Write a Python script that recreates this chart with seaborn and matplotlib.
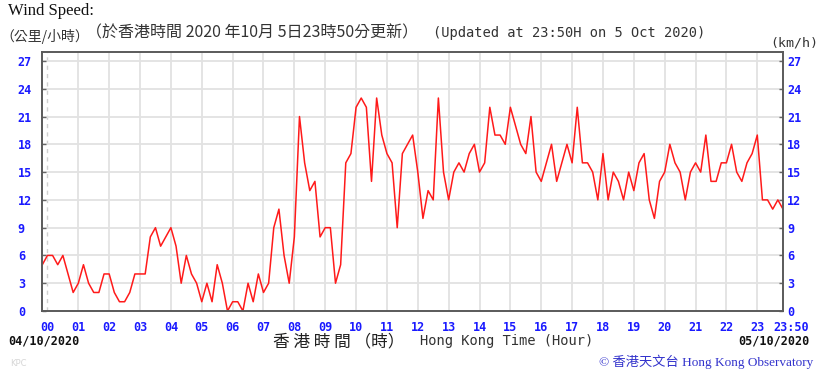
import numpy as np
import pandas as pd
import matplotlib
matplotlib.use("Agg")
import matplotlib.pyplot as plt
import matplotlib.transforms as mtrans
import seaborn as sns

# 10-minute wind speed (km/h), from 23:50 on 04/10/2020 to 23:50 on 05/10/2020
wind_kmh = [5,
    6, 6, 5, 6, 4, 2, 3, 5, 3, 2, 2, 4, 4, 2, 1, 1, 2, 4, 4, 4,
    8, 9, 7, 8, 9, 7, 3, 6, 4, 3, 1, 3, 1, 5, 3, 0, 1, 1, 0, 3,
    1, 4, 2, 3, 9, 11, 6, 3, 8, 21, 16, 13, 14, 8, 9, 9, 3, 5, 16, 17,
    22, 23, 22, 14, 23, 19, 17, 16, 9, 17, 18, 19, 15, 10, 13, 12, 23, 15, 12, 15,
    16, 15, 17, 18, 15, 16, 22, 19, 19, 18, 22, 20, 18, 17, 21, 15, 14, 16, 18, 14,
    16, 18, 16, 22, 16, 16, 15, 12, 17, 12, 15, 14, 12, 15, 13, 16, 17, 12, 10, 14,
    15, 18, 16, 15, 12, 15, 16, 15, 19, 14, 14, 16, 16, 18, 15, 14, 16, 17, 19, 12,
    12, 11, 12, 11]
hour_ticks = list(range(24)) + [23 + 50 / 60]
hour_labels = [f"{h:02d}" for h in range(24)] + ["23:50"]
speed_ticks = list(range(0, 28, 3))

hours = np.arange(len(wind_kmh)) / 6.0 - 1.0 / 6.0
df = pd.DataFrame({"hour": hours, "speed": wind_kmh})

sns.set_style("white")
plt.rcParams["font.family"] = ["DejaVu Sans", "Noto Sans CJK TC"]

W, H = 820, 376
fig = plt.figure(figsize=(W / 100, H / 100), dpi=100)
ax = fig.add_axes([42 / W, 1 - 311 / H, (783 - 42) / W, (311 - 52) / H])

# grid
for h in range(1, 24):
    ax.axvline(h, color="#e2e2e2", lw=1.3, zorder=0)
ax.axvline(0, color="#d0d0d0", lw=1.0, ls=(0, (3, 3)), zorder=0)
for v in speed_ticks[1:]:
    ax.axhline(v, color="#e2e2e2", lw=1.3, zorder=0)

sns.lineplot(data=df, x="hour", y="speed", color="#ff1a1a", linewidth=1.1, ax=ax)

ax.set_xlim(-1.0 / 6.0 - 0.01, 23 + 50 / 60)
ax.set_ylim(0, 27.97)
ax.set_xlabel("")
ax.set_ylabel("")

blue = "#1a1aff"
mono = "DejaVu Sans Mono"
ax.set_xticks(hour_ticks)
ax.set_xticklabels(hour_labels, family=mono, weight="bold", color=blue, fontsize=8.5)
ax.set_yticks(speed_ticks)
ax.set_yticklabels([str(v) for v in speed_ticks], family=mono, weight="bold",
                   color=blue, fontsize=8.5)
ax.tick_params(axis="x", direction="in", length=4, width=1, color="#666666", pad=7)
ax.tick_params(axis="y", direction="in", length=3, width=1, color="#666666",
               left=True, right=True, labelleft=True, labelright=True, pad=3)
# left labels start ~23 px left of the spine (left-aligned as in the original)
offset = mtrans.ScaledTranslation(-(23 - 3) / 100, 0, fig.dpi_scale_trans)
for t in ax.yaxis.get_major_ticks():
    t.label1.set_horizontalalignment("left")
    t.label1.set_transform(t.label1.get_transform() + offset)
# the final "23:50" label sits a little to the right of its tick
last = ax.xaxis.get_major_ticks()[-1].label1
last.set_transform(last.get_transform() +
                   mtrans.ScaledTranslation(8 / 100, 0, fig.dpi_scale_trans))

for s in ax.spines.values():
    s.set_color("#5a5a5a")
    s.set_linewidth(1.4)
    s.set_visible(True)

cjk = ["Noto Sans CJK TC"]
fig.text(8 / W, 1 - 11 / H, "Wind Speed:", family="Liberation Serif", fontsize=12,
         va="center", ha="left", color="#111111")
fig.text(0 / W, 1 - 37 / H, "（公里/小時）", family=cjk, fontsize=10,
         va="center", ha="left", color="#333333")
fig.text(86 / W, 1 - 33 / H, "（於香港時間 2020 年10月 5日23時50分更新）", family=cjk,
         fontsize=11.5, va="center", ha="left", color="#333333")
fig.text(433 / W, 1 - 33 / H, "(Updated at 23:50H on 5 Oct 2020)", family=mono,
         fontsize=9.9, va="center", ha="left", color="#333333")
fig.text(770 / W, 1 - 43 / H, "(km/h)", family=mono, fontsize=9.5,
         va="center", ha="left", color="#333333")

fig.text(8 / W, 1 - 341.5 / H, "04/10/2020", family=mono, weight="bold",
         fontsize=8.5, va="center", ha="left", color="#111111")
fig.text(810 / W, 1 - 341.5 / H, "05/10/2020", family=mono, weight="bold",
         fontsize=8.5, va="center", ha="right", color="#111111")
fig.text(273 / W, 1 - 342 / H, "香 港 時 間 （時）", family=cjk, fontsize=12,
         va="center", ha="left", color="#222222")
fig.text(420 / W, 1 - 341 / H, "Hong Kong Time (Hour)", family=mono, fontsize=9.9,
         va="center", ha="left", color="#333333")
fig.text(10 / W, 1 - 364 / H, "KPC", family="DejaVu Sans", fontsize=6,
         va="center", ha="left", color="#d6d6d6")
fig.text(813 / W, 1 - 362 / H, "© 香港天文台 Hong Kong Observatory",
         family=["Liberation Serif", "Noto Sans CJK TC"], fontsize=9.5,
         va="center", ha="right", color="#3333cc")

fig.savefig("out.png", dpi=100)
